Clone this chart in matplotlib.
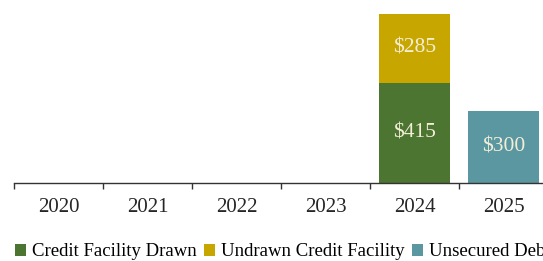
import numpy as np
import matplotlib.pyplot as plt
from matplotlib.patches import Patch

# data
years = ["2020", "2021", "2022", "2023", "2024", "2025"]
drawn = [0, 0, 0, 0, 415, 0]
undrawn = [0, 0, 0, 0, 285, 0]
unsecured = [0, 0, 0, 0, 0, 300]
series_names = ["Credit Facility Drawn", "Undrawn Credit Facility", "Unsecured Debt"]

c_drawn = "#4b7530"
c_undrawn = "#c8a600"
c_unsec = "#5a97a1"
txt_col = "#f3eed8"

plt.rcParams['font.family'] = ['Liberation Serif', 'DejaVu Serif']

W, H = 543, 261
fig = plt.figure(figsize=(W / 100, H / 100), dpi=100)
ax = fig.add_axes([14 / W, (H - 183) / H, 1 - 14 / W, 183 / H])

x = np.arange(len(years))
drawn = np.array(drawn)
undrawn = np.array(undrawn)
unsecured = np.array(unsecured)

b1 = ax.bar(x, drawn, width=0.8, color=c_drawn)
b2 = ax.bar(x, undrawn, width=0.8, bottom=drawn, color=c_undrawn)
b3 = ax.bar(x, unsecured, width=0.8, color=c_unsec)

# value labels inside the bars
for bars, vals, base in [(b1, drawn, np.zeros(len(x))), (b2, undrawn, drawn), (b3, unsecured, np.zeros(len(x)))]:
    for rect, v, b0 in zip(bars, vals, base):
        if v > 0:
            ax.text(rect.get_x() + rect.get_width() / 2, b0 + v / 2, f"${v}",
                    ha='center', va='center', color=txt_col, fontsize=15.5)

ax.set_xlim(-0.5, 5.44)
ax.set_ylim(0, 758)
ax.set_yticks([])
ax.set_xticks(np.arange(-0.5, 5.5, 1.0))
ax.set_xticklabels([])
ax.set_xticks(x, minor=True)
ax.set_xticklabels(years, minor=True, fontsize=15, color="#262626")
ax.tick_params(axis='x', which='major', direction='out', length=4, width=1, color="#333333")
ax.tick_params(axis='x', which='minor', length=0, pad=11)
for s in ['top', 'right', 'left']:
    ax.spines[s].set_visible(False)
ax.spines['bottom'].set_color("#333333")
ax.spines['bottom'].set_linewidth(1)

handles = [Patch(facecolor=c, label=n) for c, n in zip([c_drawn, c_undrawn, c_unsec], series_names)]
fig.legend(handles=handles, loc='center left', bbox_to_anchor=(15 / W, 1 - 252 / H),
           ncol=3, frameon=False, fontsize=13.5, handlelength=0.6, handleheight=0.6,
           handletextpad=0.3, columnspacing=0.4, borderaxespad=0, borderpad=0)

fig.savefig("out.png", dpi=100)
